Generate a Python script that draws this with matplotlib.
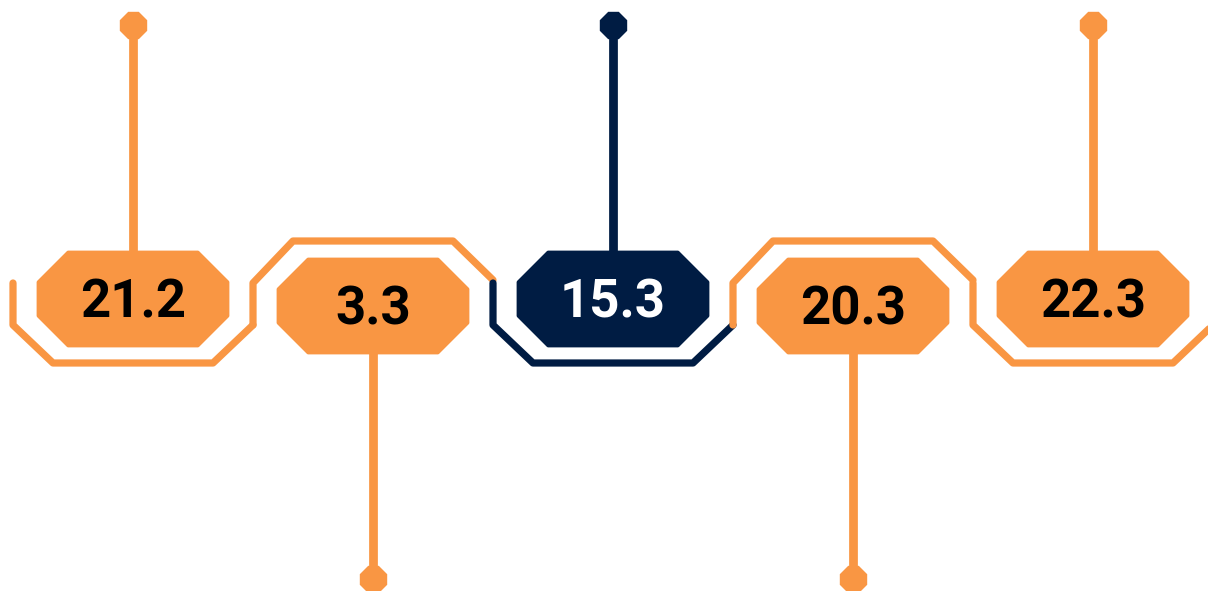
import numpy as np
import matplotlib.pyplot as plt
from matplotlib.patches import Polygon

values = [21.2, 3.3, 15.3, 20.3, 22.3]
highlight = [False, False, True, False, False]

orange = '#F99643'
navy = '#001C43'

W, H = 1208, 591
fig = plt.figure(figsize=(W / 100, H / 100), dpi=100)
ax = fig.add_axes([0, 0, 1, 1])
ax.set_xlim(0, W)
ax.set_ylim(H, 0)
ax.axis('off')

step = 240
cx = 133 + step * np.arange(len(values))
bw, bh, ch = 190, 94, 30


def octagon(x, y, w, h, c, col):
    pts = [(x - w/2 + c, y - h/2), (x + w/2 - c, y - h/2), (x + w/2, y - h/2 + c),
           (x + w/2, y + h/2 - c), (x + w/2 - c, y + h/2), (x - w/2 + c, y + h/2),
           (x - w/2, y + h/2 - c), (x - w/2, y - h/2 + c)]
    return Polygon(pts, closed=True, fc=col, ec=col, lw=2, joinstyle='round')


for i, v in enumerate(values):
    c = cx[i]
    col = navy if highlight[i] else orange
    lw = 5.2
    xs = [c - 120, c - 120, c - 80, c + 80, c + 120]
    if i % 2 == 0:
        # bracket below, stem up
        ys = [283, 325, 363, 363, 325]
        by = 299
        ax.plot([c, c], [by - bh/2 + 2, 25], color=col, lw=6.3, zorder=1)
        ax.plot(c, 25, marker='8', ms=20, color=col, mec=col, zorder=3)
    else:
        # bracket above, stem down
        ys = [325, 283, 241, 241, 280]
        by = 306
        ax.plot([c, c], [by + bh/2 - 2, 579], color=col, lw=6.3, zorder=1)
        ax.plot(c, 579, marker='8', ms=20, color=col, mec=col, zorder=3)
    ax.plot(xs, ys, color=col, lw=lw, solid_capstyle='round', solid_joinstyle='round', zorder=2)
    ax.add_patch(octagon(c, by, bw, bh, ch, col))
    ax.text(c, by + 4, f'{v}', ha='center', va='center', fontsize=38, fontweight='bold',
            family='Roboto', color='white' if highlight[i] else 'black', zorder=4)

fig.savefig('out.png', dpi=100)
